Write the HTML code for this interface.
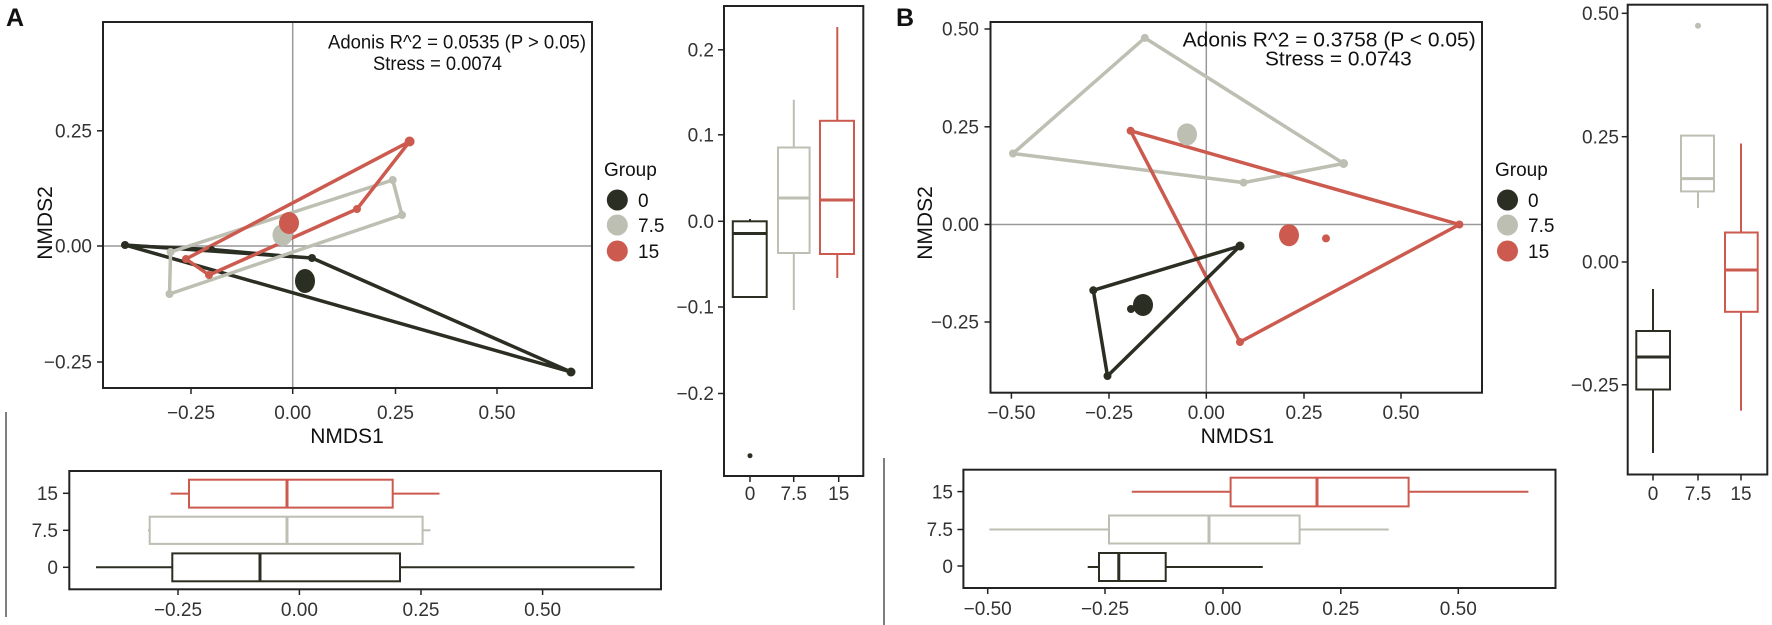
<!DOCTYPE html>
<html><head><meta charset="utf-8"><style>
html,body{margin:0;padding:0;background:#fff;}
svg{display:block;font-family:"Liberation Sans",Arial,sans-serif;}
</style></head><body>
<svg width="1772" height="625" viewBox="0 0 1772 625" xmlns="http://www.w3.org/2000/svg">
<rect width="1772" height="625" fill="#fff"/>
<!-- separators -->
<line x1="6" y1="412" x2="6" y2="617" stroke="#555" stroke-width="1.5"/>
<line x1="884" y1="458" x2="884" y2="625" stroke="#555" stroke-width="1.5"/>

<!-- ============ PANEL A ============ -->
<text x="6" y="26" font-size="25" font-weight="bold" fill="#111">A</text>
<!-- main frame -->
<line x1="103" y1="246" x2="592" y2="246" stroke="#999" stroke-width="1.5"/>
<line x1="292.7" y1="22" x2="292.7" y2="388" stroke="#999" stroke-width="1.5"/>
<g fill="none" stroke-linejoin="round" stroke-width="3.5">
<polygon points="125,245 312,258 571,372" stroke="#2b2e22"/>
<polyline points="125,245 212,249 312,258" stroke="#2b2e22" stroke-width="2.5"/>
<polygon points="169.5,294 170.6,252 392.7,180 402,215" stroke="#bcbfb2"/>
<polygon points="186,259 409.6,141.5 357,209 209,275" stroke="#cc5a4e"/>
</g>
<g fill="#2b2e22"><circle cx="125" cy="245" r="4"/><circle cx="212" cy="249" r="3"/><circle cx="312" cy="258" r="4"/><circle cx="571" cy="372" r="4.5"/></g>
<g fill="#bcbfb2"><circle cx="169.5" cy="294" r="4"/><circle cx="170.6" cy="252" r="4"/><circle cx="392.7" cy="180" r="4"/><circle cx="402" cy="215" r="4"/></g>
<g fill="#cc5a4e"><circle cx="186" cy="259" r="4"/><circle cx="209" cy="275" r="4"/><circle cx="357" cy="209" r="4"/><circle cx="409.6" cy="141.5" r="5"/></g>
<ellipse cx="282.5" cy="235" rx="10" ry="11" fill="#bcbfb2"/>
<ellipse cx="289" cy="223" rx="10" ry="11" fill="#cc5a4e"/>
<ellipse cx="305" cy="281" rx="10" ry="12" fill="#2b2e22"/>
<rect x="103" y="22" width="489" height="366" fill="none" stroke="#222" stroke-width="2"/>
<g stroke="#222" stroke-width="1.5">
<line x1="191" y1="388" x2="191" y2="394"/><line x1="292.7" y1="388" x2="292.7" y2="394"/><line x1="395.5" y1="388" x2="395.5" y2="394"/><line x1="497" y1="388" x2="497" y2="394"/>
<line x1="97" y1="130.8" x2="103" y2="130.8"/><line x1="97" y1="246" x2="103" y2="246"/><line x1="97" y1="362" x2="103" y2="362"/>
</g>
<g font-size="19" fill="#333" text-anchor="middle">
<text x="191" y="419">−0.25</text><text x="292.7" y="419">0.00</text><text x="395.5" y="419">0.25</text><text x="497" y="419">0.50</text>
</g>
<g font-size="19" fill="#333" text-anchor="end">
<text x="92" y="137.5">0.25</text><text x="92" y="252.5">0.00</text><text x="92" y="368.5">−0.25</text>
</g>
<text x="347" y="443" font-size="21" text-anchor="middle" fill="#111">NMDS1</text>
<text transform="translate(52,223) rotate(-90)" font-size="21" text-anchor="middle" fill="#111">NMDS2</text>
<text x="328" y="48.6" font-size="19" textLength="258" lengthAdjust="spacingAndGlyphs" fill="#111">Adonis R^2 = 0.0535 (P &gt; 0.05)</text>
<text x="373" y="70" font-size="19" textLength="129" lengthAdjust="spacingAndGlyphs" fill="#111">Stress = 0.0074</text>
<!-- legend A -->
<text x="604" y="176" font-size="19" fill="#111">Group</text>
<circle cx="617.3" cy="200" r="10.5" fill="#2b2e22"/>
<circle cx="617.3" cy="225" r="10.5" fill="#bcbfb2"/>
<circle cx="617.3" cy="251" r="10.5" fill="#cc5a4e"/>
<g font-size="19" fill="#111"><text x="638" y="207">0</text><text x="638" y="232">7.5</text><text x="638" y="258">15</text></g>

<!-- right boxplot A -->
<g fill="none" stroke-width="2">
<g stroke="#2b2e22"><line x1="750" y1="221" x2="750" y2="219"/><rect x="732.8" y="221.3" width="33.9" height="75.7"/><line x1="732.8" y1="233.5" x2="766.7" y2="233.5" stroke-width="3"/></g>
<g stroke="#bcbfb2"><line x1="793.8" y1="99.7" x2="793.8" y2="147.5"/><line x1="793.8" y1="253" x2="793.8" y2="310"/><rect x="778" y="147.5" width="31.6" height="105.5"/><line x1="778" y1="198" x2="809.6" y2="198" stroke-width="3"/></g>
<g stroke="#cc5a4e"><line x1="837.3" y1="27" x2="837.3" y2="120.8"/><line x1="837.3" y1="254" x2="837.3" y2="278"/><rect x="820" y="120.8" width="34" height="133.2"/><line x1="820" y1="200" x2="854" y2="200" stroke-width="3"/></g>
</g>
<circle cx="750" cy="455.7" r="2.5" fill="#2b2e22"/>
<rect x="724" y="6" width="139.3" height="470" fill="none" stroke="#222" stroke-width="2"/>
<g stroke="#222" stroke-width="1.5">
<line x1="718" y1="49.8" x2="724" y2="49.8"/><line x1="718" y1="134.8" x2="724" y2="134.8"/><line x1="718" y1="221.3" x2="724" y2="221.3"/><line x1="718" y1="307" x2="724" y2="307"/><line x1="718" y1="393.5" x2="724" y2="393.5"/>
<line x1="750" y1="476" x2="750" y2="482"/><line x1="793.7" y1="476" x2="793.7" y2="482"/><line x1="838.7" y1="476" x2="838.7" y2="482"/>
</g>
<g font-size="19" fill="#333" text-anchor="end">
<text x="714" y="56.5">0.2</text><text x="714" y="141.5">0.1</text><text x="714" y="228">0.0</text><text x="714" y="313.5">−0.1</text><text x="714" y="400">−0.2</text>
</g>
<g font-size="19" fill="#333" text-anchor="middle"><text x="750" y="500">0</text><text x="793.7" y="500">7.5</text><text x="838.7" y="500">15</text></g>

<!-- bottom boxplot A -->
<g fill="none" stroke-width="2">
<g stroke="#cc5a4e"><line x1="170.6" y1="493.6" x2="189" y2="493.6"/><line x1="392.7" y1="493.6" x2="439.5" y2="493.6"/><rect x="189" y="479.7" width="203.7" height="27.9"/><line x1="287" y1="479.7" x2="287" y2="507.6" stroke-width="3"/></g>
<g stroke="#bcbfb2"><line x1="148" y1="530.3" x2="149.7" y2="530.3"/><line x1="422.6" y1="530.3" x2="430.5" y2="530.3"/><rect x="149.7" y="516.7" width="272.9" height="27.2"/><line x1="287" y1="516.7" x2="287" y2="543.9" stroke-width="3"/></g>
<g stroke="#2b2e22"><line x1="96" y1="567.3" x2="172.3" y2="567.3"/><line x1="400" y1="567.3" x2="634.5" y2="567.3"/><rect x="172.3" y="553.4" width="227.7" height="27.9"/><line x1="260" y1="553.4" x2="260" y2="581.3" stroke-width="3"/></g>
</g>
<rect x="69.3" y="471" width="591.7" height="118.3" fill="none" stroke="#222" stroke-width="2"/>
<g stroke="#222" stroke-width="1.5">
<line x1="63" y1="493.3" x2="69.3" y2="493.3"/><line x1="63" y1="530.3" x2="69.3" y2="530.3"/><line x1="63" y1="567.3" x2="69.3" y2="567.3"/>
<line x1="178" y1="589.3" x2="178" y2="595"/><line x1="299.4" y1="589.3" x2="299.4" y2="595"/><line x1="421" y1="589.3" x2="421" y2="595"/><line x1="542.6" y1="589.3" x2="542.6" y2="595"/>
</g>
<g font-size="19" fill="#333" text-anchor="end"><text x="58" y="500">15</text><text x="58" y="537">7.5</text><text x="58" y="574">0</text></g>
<g font-size="19" fill="#333" text-anchor="middle"><text x="178" y="616">−0.25</text><text x="299.4" y="616">0.00</text><text x="421" y="616">0.25</text><text x="542.6" y="616">0.50</text></g>

<!-- ============ PANEL B ============ -->
<text x="896" y="26" font-size="25" font-weight="bold" fill="#111">B</text>
<line x1="990.5" y1="224.5" x2="1482" y2="224.5" stroke="#999" stroke-width="1.5"/>
<line x1="1206.3" y1="22" x2="1206.3" y2="392.7" stroke="#999" stroke-width="1.5"/>
<g fill="none" stroke-linejoin="round" stroke-width="3.5">
<polygon points="1013,153.5 1144.8,37.9 1343.6,163.5 1243.6,182.6" stroke="#bcbfb2"/>
<polygon points="1130.6,130.8 1459.4,224.5 1240,342" stroke="#cc5a4e"/>
<polygon points="1240,246 1093.3,290.3 1107.5,376" stroke="#2b2e22"/>
</g>
<g fill="#bcbfb2"><circle cx="1013" cy="153.5" r="4"/><circle cx="1144.8" cy="37.9" r="4"/><circle cx="1343.6" cy="163.5" r="4.5"/><circle cx="1243.6" cy="182.6" r="4"/></g>
<g fill="#cc5a4e"><circle cx="1130.6" cy="130.8" r="4"/><circle cx="1459.4" cy="224.5" r="4"/><circle cx="1240" cy="342" r="4"/></g>
<g fill="#2b2e22"><circle cx="1240" cy="246" r="4.5"/><circle cx="1093.3" cy="290.3" r="4"/><circle cx="1107.5" cy="376" r="4"/></g>
<ellipse cx="1187" cy="134.4" rx="10" ry="11" fill="#bcbfb2"/>
<ellipse cx="1289" cy="235.2" rx="10" ry="11" fill="#cc5a4e"/>
<circle cx="1326" cy="238.4" r="4" fill="#cc5a4e"/>
<ellipse cx="1143" cy="305" rx="10" ry="11" fill="#2b2e22"/>
<circle cx="1131" cy="309" r="4" fill="#2b2e22"/>
<rect x="990.5" y="22" width="491.5" height="370.7" fill="none" stroke="#222" stroke-width="2"/>
<g stroke="#222" stroke-width="1.5">
<line x1="1011.4" y1="392.7" x2="1011.4" y2="398.7"/><line x1="1109" y1="392.7" x2="1109" y2="398.7"/><line x1="1206.3" y1="392.7" x2="1206.3" y2="398.7"/><line x1="1304" y1="392.7" x2="1304" y2="398.7"/><line x1="1401" y1="392.7" x2="1401" y2="398.7"/>
<line x1="984.5" y1="29" x2="990.5" y2="29"/><line x1="984.5" y1="126.8" x2="990.5" y2="126.8"/><line x1="984.5" y1="224.5" x2="990.5" y2="224.5"/><line x1="984.5" y1="322" x2="990.5" y2="322"/>
</g>
<g font-size="19" fill="#333" text-anchor="middle">
<text x="1011.4" y="419">−0.50</text><text x="1109" y="419">−0.25</text><text x="1206.3" y="419">0.00</text><text x="1304" y="419">0.25</text><text x="1401" y="419">0.50</text>
</g>
<g font-size="19" fill="#333" text-anchor="end">
<text x="979" y="35.5">0.50</text><text x="979" y="133.5">0.25</text><text x="979" y="231">0.00</text><text x="979" y="328.5">−0.25</text>
</g>
<text x="1237.4" y="443" font-size="21" text-anchor="middle" fill="#111">NMDS1</text>
<text transform="translate(932,223) rotate(-90)" font-size="21" text-anchor="middle" fill="#111">NMDS2</text>
<text x="1182.7" y="46.7" font-size="20" textLength="293" lengthAdjust="spacingAndGlyphs" fill="#111">Adonis R^2 = 0.3758 (P &lt; 0.05)</text>
<text x="1265" y="65.7" font-size="20" textLength="146.7" lengthAdjust="spacingAndGlyphs" fill="#111">Stress = 0.0743</text>
<!-- legend B -->
<text x="1495" y="176" font-size="19" fill="#111">Group</text>
<circle cx="1507.5" cy="200" r="10.5" fill="#2b2e22"/>
<circle cx="1507.5" cy="225" r="10.5" fill="#bcbfb2"/>
<circle cx="1507.5" cy="251" r="10.5" fill="#cc5a4e"/>
<g font-size="19" fill="#111"><text x="1528" y="207">0</text><text x="1528" y="232">7.5</text><text x="1528" y="258">15</text></g>

<!-- right boxplot B -->
<g fill="none" stroke-width="2">
<g stroke="#2b2e22"><line x1="1653" y1="289" x2="1653" y2="331"/><line x1="1653" y1="389.5" x2="1653" y2="453"/><rect x="1636.3" y="331" width="33.7" height="58.5"/><line x1="1636.3" y1="357" x2="1670" y2="357" stroke-width="3"/></g>
<g stroke="#bcbfb2"><line x1="1698" y1="191.4" x2="1698" y2="208"/><rect x="1681" y="135.6" width="33" height="55.8"/><line x1="1681" y1="178.6" x2="1714" y2="178.6" stroke-width="3"/></g>
<g stroke="#cc5a4e"><line x1="1741" y1="143.5" x2="1741" y2="232.5"/><line x1="1741" y1="311.8" x2="1741" y2="410.7"/><rect x="1725" y="232.5" width="32.7" height="79.3"/><line x1="1725" y1="270" x2="1757.7" y2="270" stroke-width="3"/></g>
</g>
<circle cx="1698" cy="25.7" r="3" fill="#bcbfb2"/>
<rect x="1627.7" y="4.7" width="139.6" height="469.8" fill="none" stroke="#222" stroke-width="2"/>
<g stroke="#222" stroke-width="1.5">
<line x1="1621.7" y1="13.3" x2="1627.7" y2="13.3"/><line x1="1621.7" y1="136.7" x2="1627.7" y2="136.7"/><line x1="1621.7" y1="262" x2="1627.7" y2="262"/><line x1="1621.7" y1="384.8" x2="1627.7" y2="384.8"/>
<line x1="1653" y1="474.5" x2="1653" y2="480.5"/><line x1="1698" y1="474.5" x2="1698" y2="480.5"/><line x1="1741" y1="474.5" x2="1741" y2="480.5"/>
</g>
<g font-size="19" fill="#333" text-anchor="end">
<text x="1619" y="20">0.50</text><text x="1619" y="143.4">0.25</text><text x="1619" y="268.7">0.00</text><text x="1619" y="391.5">−0.25</text>
</g>
<g font-size="19" fill="#333" text-anchor="middle"><text x="1653" y="500">0</text><text x="1698" y="500">7.5</text><text x="1741" y="500">15</text></g>

<!-- bottom boxplot B -->
<g fill="none" stroke-width="2">
<g stroke="#cc5a4e"><line x1="1131.8" y1="491.8" x2="1230.6" y2="491.8"/><line x1="1408.6" y1="491.8" x2="1528.4" y2="491.8"/><rect x="1230.6" y="477.7" width="178" height="28.7"/><line x1="1317" y1="477.7" x2="1317" y2="506.4" stroke-width="3"/></g>
<g stroke="#bcbfb2"><line x1="989.4" y1="529.5" x2="1109" y2="529.5"/><line x1="1299.6" y1="529.5" x2="1388.8" y2="529.5"/><rect x="1109" y="515.5" width="190.6" height="28"/><line x1="1209" y1="515.5" x2="1209" y2="543.5" stroke-width="3"/></g>
<g stroke="#2b2e22"><line x1="1087.7" y1="567" x2="1099" y2="567"/><line x1="1165.7" y1="567" x2="1262.8" y2="567"/><rect x="1099" y="553" width="66.7" height="28"/><line x1="1118.8" y1="553" x2="1118.8" y2="581" stroke-width="3"/></g>
</g>
<rect x="963.4" y="469.7" width="592.1" height="118.3" fill="none" stroke="#222" stroke-width="2"/>
<g stroke="#222" stroke-width="1.5">
<line x1="957.4" y1="491.6" x2="963.4" y2="491.6"/><line x1="957.4" y1="529.5" x2="963.4" y2="529.5"/><line x1="957.4" y1="566" x2="963.4" y2="566"/>
<line x1="987.7" y1="588" x2="987.7" y2="594"/><line x1="1105" y1="588" x2="1105" y2="594"/><line x1="1223" y1="588" x2="1223" y2="594"/><line x1="1340.8" y1="588" x2="1340.8" y2="594"/><line x1="1458.3" y1="588" x2="1458.3" y2="594"/>
</g>
<g font-size="19" fill="#333" text-anchor="end"><text x="953" y="498.5">15</text><text x="953" y="536">7.5</text><text x="953" y="573">0</text></g>
<g font-size="19" fill="#333" text-anchor="middle"><text x="987.7" y="615">−0.50</text><text x="1105" y="615">−0.25</text><text x="1223" y="615">0.00</text><text x="1340.8" y="615">0.25</text><text x="1458.3" y="615">0.50</text></g>
</svg>
</body></html>
